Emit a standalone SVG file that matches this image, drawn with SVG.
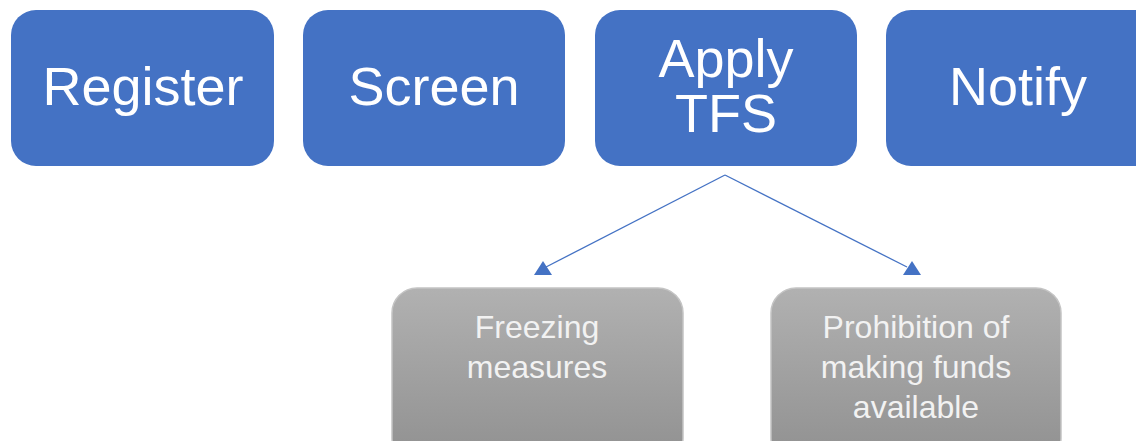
<svg xmlns="http://www.w3.org/2000/svg" width="1136" height="441" viewBox="0 0 1136 441">
<style>
.blue{fill:#4472C4}
.gray{fill:url(#g);stroke:#c4c4c4;stroke-width:1.5}
.t{font-family:"Liberation Sans",Arial,sans-serif;fill:#fff;text-anchor:middle}
.big{font-size:54px}
.small{font-size:32px;fill:#f2f2f2}
.conn{stroke:#4472C4;stroke-width:1.3;fill:none}
.head{fill:#4472C4}
</style>
<defs>
<linearGradient id="g" x1="0" y1="0" x2="0" y2="1">
<stop offset="0" stop-color="#b1b1b1"/>
<stop offset="1" stop-color="#909090"/>
</linearGradient>
</defs>
<g id="register"><rect class="blue" x="11" y="10" width="263" height="156" rx="25"/><text class="t big" x="143" y="105">Register</text></g>
<g id="screen"><rect class="blue" x="303" y="10" width="262" height="156" rx="25"/><text class="t big" x="434" y="105">Screen</text></g>
<g id="apply"><rect class="blue" x="595" y="10" width="262" height="156" rx="25"/><text class="t big" x="726" y="77">Apply</text><text class="t big" x="726" y="132">TFS</text></g>
<g id="notify"><rect class="blue" x="886" y="10" width="280" height="156" rx="25"/><text class="t big" x="1018" y="105">Notify</text></g>
<g id="connectors">
<path class="conn" d="M725,175 L546,267"/>
<path class="conn" d="M725,175 L907,267"/>
<polygon class="head" points="534,275 552,275 543,261"/>
<polygon class="head" points="903,275 921,275 912,261"/>
</g>
<g id="freezing"><rect class="gray" x="392" y="288" width="291" height="175" rx="25"/><text class="t small" x="537" y="338">Freezing</text><text class="t small" x="537" y="378">measures</text></g>
<g id="prohibition"><rect class="gray" x="771" y="288" width="290" height="175" rx="25"/><text class="t small" x="916" y="338">Prohibition of</text><text class="t small" x="916" y="378">making funds</text><text class="t small" x="916" y="418">available</text></g>
</svg>
